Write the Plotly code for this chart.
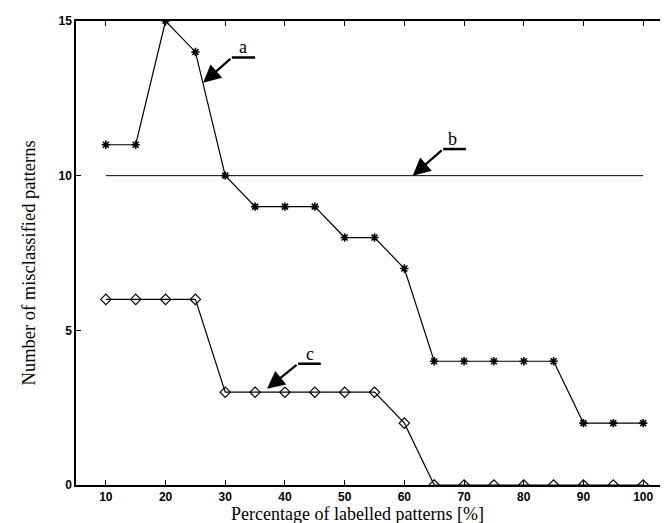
import plotly.graph_objects as go

x_vals = [10, 15, 20, 25, 30, 35, 40, 45, 50, 55, 60, 65, 70, 75, 80, 85, 90, 95, 100]
series_a = [11, 11, 15, 14, 10, 9, 9, 9, 8, 8, 7, 4, 4, 4, 4, 4, 2, 2, 2]
series_c = [6, 6, 6, 6, 3, 3, 3, 3, 3, 3, 2, 0, 0, 0, 0, 0, 0, 0, 0]
line_b_x = [10, 100]
line_b_y = [10, 10]
x_ticks = [10, 20, 30, 40, 50, 60, 70, 80, 90, 100]
y_ticks = [0, 5, 10, 15]
x_title = "Percentage of labelled patterns [%]"
y_title = "Number of misclassified patterns"

# annotation labels: (text, text_x, text_y, tip_x, tip_y, corner_x, corner_y, end_x)
labels = [
    ("a", 33.0, 14.17, 26.3, 13.0, 31.1, 13.82, 35.0),
    ("b", 68.1, 11.18, 61.4, 10.0, 66.5, 10.86, 70.3),
    ("c", 44.2, 4.24, 37.0, 3.11, 42.2, 3.92, 46.0),
]

fig = go.Figure()
fig.add_trace(go.Scatter(x=line_b_x, y=line_b_y, mode="lines",
                         line=dict(color="black", width=1), showlegend=False))
fig.add_trace(go.Scatter(x=x_vals, y=series_a, mode="lines+markers",
                         line=dict(color="black", width=1.2),
                         marker=dict(symbol="asterisk-open", size=7,
                                     line=dict(color="black", width=1.6)),
                         showlegend=False))
fig.add_trace(go.Scatter(x=x_vals, y=series_c, mode="lines+markers",
                         line=dict(color="black", width=1.2),
                         marker=dict(symbol="diamond-open", size=8, color="black",
                                     line=dict(color="black", width=1.2)),
                         showlegend=False))

serif = "Liberation Serif"
annotations = []
shapes = []
for text, tx, ty, px, py, cx, cy, ex in labels:
    annotations.append(dict(x=px, y=py, ax=cx, ay=cy, xref="x", yref="y",
                            axref="x", ayref="y", text="", showarrow=True,
                            arrowhead=2, arrowsize=1.6, arrowwidth=2.2,
                            arrowcolor="black"))
    annotations.append(dict(x=tx, y=ty, xref="x", yref="y", text=text,
                            showarrow=False,
                            font=dict(family=serif, size=18, color="black")))
    shapes.append(dict(type="line", x0=cx, y0=cy, x1=ex, y1=cy, xref="x", yref="y",
                       line=dict(color="black", width=2.5)))

# axis titles
annotations.append(dict(text=x_title, xref="paper", yref="paper", x=0.4707, y=0,
                        xanchor="center", yanchor="middle", yshift=-29,
                        showarrow=False, font=dict(family=serif, size=18, color="black")))
annotations.append(dict(text=y_title, xref="paper", yref="paper", x=0, y=0.4775,
                        xanchor="center", yanchor="middle", xshift=-47, textangle=-90,
                        showarrow=False, font=dict(family=serif, size=18.5, color="black")))

axis_common = dict(showline=True, linecolor="black", linewidth=1.5, mirror="allticks",
                   ticks="inside", ticklen=5, tickcolor="black", showgrid=False,
                   zeroline=False, automargin=False,
                   tickfont=dict(family="Liberation Sans", size=12, color="black",
                                 weight="bold"))

fig.update_layout(
    width=668, height=523,
    margin=dict(l=68, r=3, t=13, b=46),
    paper_bgcolor="white", plot_bgcolor="white",
    annotations=annotations, shapes=shapes,
    xaxis=dict(range=[5, 105], tickvals=x_ticks, **axis_common),
    yaxis=dict(range=[0, 15], tickvals=y_ticks, **axis_common),
)

fig.write_html("out.html")
